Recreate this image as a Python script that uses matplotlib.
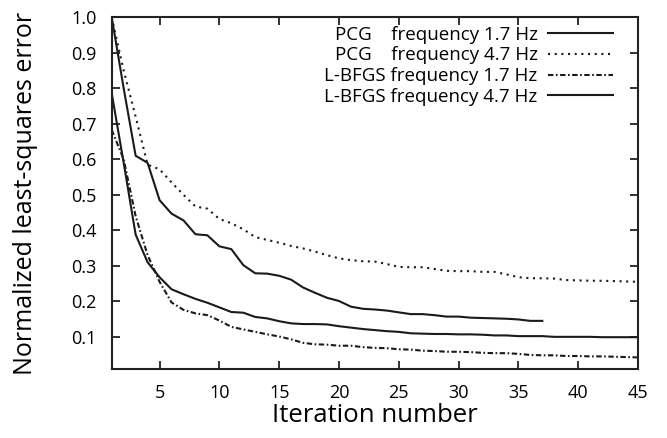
import matplotlib
matplotlib.use('Agg')
import matplotlib.pyplot as plt

plt.rcParams['font.family'] = ['Open Sans', 'DejaVu Sans']

# iteration numbers
iters_45 = list(range(1, 46))
iters_37 = list(range(1, 38))

# PCG, frequency 1.7 Hz (solid, runs to 45)
pcg_17 = [0.786, 0.59, 0.388, 0.31, 0.268, 0.234, 0.22, 0.207, 0.196, 0.183,
          0.17, 0.168, 0.156, 0.152, 0.144, 0.138, 0.136, 0.136, 0.135, 0.13,
          0.126, 0.122, 0.119, 0.116, 0.114, 0.11, 0.109, 0.108, 0.108, 0.107,
          0.107, 0.106, 0.104, 0.104, 0.102, 0.102, 0.102, 0.1, 0.1, 0.1,
          0.1, 0.099, 0.099, 0.099, 0.099]

# PCG, frequency 4.7 Hz (dotted)
pcg_47 = [1.0, 0.85, 0.72, 0.585, 0.572, 0.535, 0.5, 0.467, 0.461, 0.432,
          0.42, 0.403, 0.381, 0.373, 0.365, 0.356, 0.349, 0.34, 0.33, 0.321,
          0.316, 0.313, 0.312, 0.305, 0.297, 0.296, 0.296, 0.291, 0.286, 0.285,
          0.285, 0.283, 0.283, 0.276, 0.268, 0.265, 0.265, 0.264, 0.26, 0.259,
          0.258, 0.258, 0.257, 0.256, 0.255]

# L-BFGS, frequency 1.7 Hz (dash-dot)
lbfgs_17 = [0.683, 0.6, 0.44, 0.33, 0.255, 0.197, 0.176, 0.166, 0.161, 0.146,
            0.128, 0.121, 0.114, 0.107, 0.101, 0.093, 0.083, 0.079, 0.078, 0.075,
            0.075, 0.071, 0.069, 0.068, 0.065, 0.064, 0.061, 0.06, 0.058, 0.058,
            0.057, 0.055, 0.054, 0.054, 0.052, 0.049, 0.048, 0.048, 0.046, 0.046,
            0.045, 0.045, 0.044, 0.043, 0.042]

# L-BFGS, frequency 4.7 Hz (solid, stops at 37)
lbfgs_47 = [1.0, 0.8, 0.61, 0.59, 0.485, 0.447, 0.428, 0.389, 0.386, 0.355,
            0.347, 0.302, 0.279, 0.278, 0.272, 0.261, 0.239, 0.224, 0.21, 0.201,
            0.185, 0.179, 0.177, 0.174, 0.169, 0.164, 0.164, 0.161, 0.157, 0.157,
            0.154, 0.153, 0.152, 0.151, 0.149, 0.145, 0.145]

labels = ['PCG    frequency 1.7 Hz', 'PCG    frequency 4.7 Hz',
          'L-BFGS frequency 1.7 Hz', 'L-BFGS frequency 4.7 Hz']

xticks = [5, 10, 15, 20, 25, 30, 35, 40, 45]
yticks = [0.1, 0.2, 0.3, 0.4, 0.5, 0.6, 0.7, 0.8, 0.9, 1.0]

fig = plt.figure(figsize=(6.67, 4.38), dpi=100)
ax = fig.add_axes([0.1675, 0.158, 0.789, 0.8025])

lw = 1.5
ax.plot(iters_45, pcg_17, color='#1a1a1a', lw=lw, label=labels[0])
ax.plot(iters_45, pcg_47, color='#1a1a1a', lw=lw, linestyle=(0, (1, 2.2)), label=labels[1])
ax.plot(iters_45, lbfgs_17, color='#1a1a1a', lw=lw, linestyle=(0, (2.6, 1.2, 0.8, 1.2)), label=labels[2])
ax.plot(iters_37, lbfgs_47, color='#1a1a1a', lw=lw, label=labels[3])

ax.set_xlim(1, 45)
ax.set_ylim(0.01, 1.0)
ax.set_xticks(xticks)
ax.set_yticks(yticks)
ax.set_yticklabels(['%.1f' % v for v in yticks])

for s in ax.spines.values():
    s.set_linewidth(1.5)
    s.set_color('#222222')
ax.tick_params(direction='in', length=5.5, width=1.3, top=True, right=True,
               labelsize=13, pad=11, colors='#222222', labelcolor='black')

ax.set_xlabel('Iteration number', fontsize=18.5, labelpad=1)
ax.set_ylabel('Normalized least-squares error', fontsize=18, labelpad=24)

leg = ax.legend(loc='upper right', bbox_to_anchor=(0.966, 0.998), borderaxespad=0,
                frameon=False, markerfirst=False, fontsize=13.5, handlelength=3.47,
                handletextpad=0.53, labelspacing=0.15)

plt.savefig('out.png', dpi=100)
